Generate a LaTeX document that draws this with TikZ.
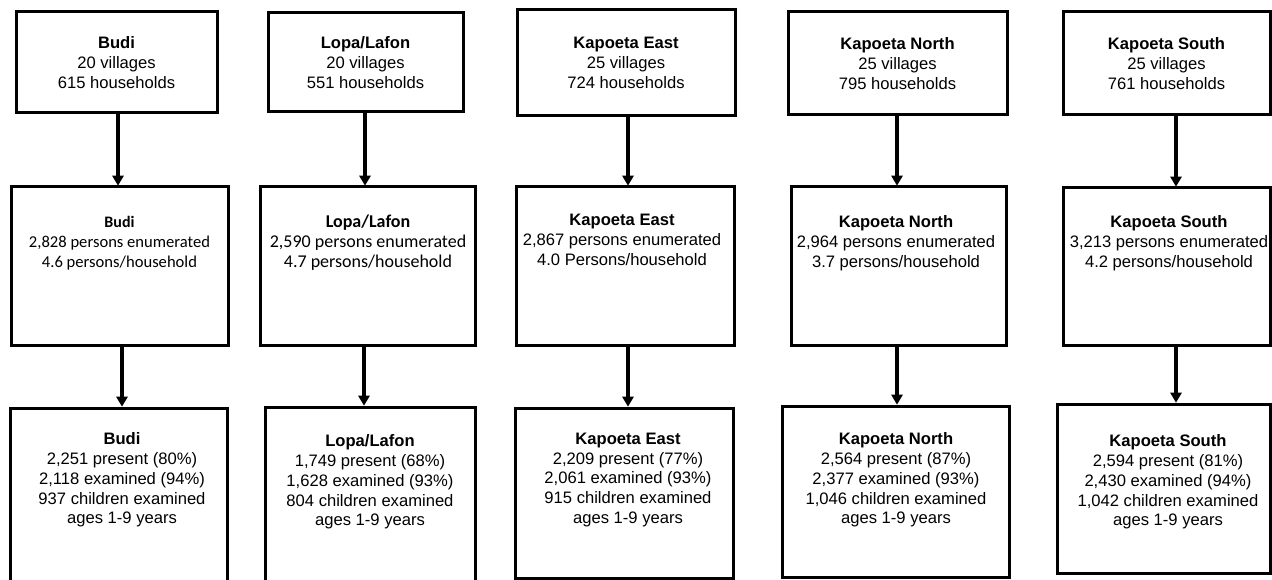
\documentclass[tikz,border=0pt]{standalone}
\usepackage{fontspec}
\setmainfont{Liberation Sans}
\newfontfamily\calib{Carlito}
\usetikzlibrary{arrows.meta}
\newcommand{\bx}[6][]{\node[box,minimum width={#5-#3},minimum height={#6-#4},#1] (#2) at ({(#3+#5)/2},{(#4+#6)/2}) {};}
\begin{document}
\begin{tikzpicture}[x=1pt,y=-1pt,
  box/.style={draw=black,line width=3pt,inner sep=0pt,outer sep=0pt,fill=white},
  txt/.style={align=center,inner sep=0pt,font=\fontsize{16.6}{19.8}\selectfont},
  arr/.style={line width=3.2pt,shorten >=1.3pt,-{Triangle[width=11pt,length=10pt]}}]
\fill[white] (0,0) rectangle (1272,580);
\clip (0,0) rectangle (1272,580);
% top row
\bx{t1}{16}{12}{217}{113}
\bx{t2}{268}{13}{463}{112}
\bx{t3}{517}{10}{735}{116}
\bx{t4}{788}{12}{1007}{115}
\bx{t5}{1063}{12}{1270}{115}
% middle row
\bx{m1}{11}{187}{228}{345}
\bx{m2}{260}{187}{475}{345}
\bx{m3}{516}{187}{734}{345}
\bx{m4}{791}{187}{1006}{345}
\bx{m5}{1063}{188}{1270}{345}
% bottom row
\bx{b1}{10}{408}{227}{610}
\bx{b2}{265}{407}{475}{610}
\bx{b3}{515}{408}{733}{578}
\bx{b4}{782}{406}{1009}{577}
\bx{b5}{1057}{404}{1270}{573}
% top texts
\node[txt] (t1t) at (t1) {\textbf{Budi}\\20 villages\\615 households};
\node[txt] (t2t) at (t2) {\textbf{Lopa/Lafon}\\20 villages\\551 households};
\node[txt] (t3t) at (t3) {\textbf{Kapoeta East}\\25 villages\\724 households};
\node[txt] (t4t) at (t4) {\textbf{Kapoeta North}\\25 villages\\795 households};
\node[txt] (t5t) at (t5) {\textbf{Kapoeta South}\\25 villages\\761 households};
% middle texts
\node[txt,font=\calib\fontsize{16.6}{20}\selectfont] (m1t) at (119.5,243)
  {{\bfseries\fontsize{16}{20}\selectfont Budi}\\2,828 persons enumerated\\4.6 persons/household};
\node[txt,font=\calib\fontsize{18}{20}\selectfont] (m2t) at (368,243)
  {\textbf{Lopa/Lafon}\\2,590 persons enumerated\\4.7 persons/household};
\node[txt] (m3t) at (622,240) {\textbf{Kapoeta East}\\2,867 persons enumerated\\4.0 Persons/household};
\node[txt] (m4t) at (896,243) {\textbf{Kapoeta North}\\2,964 persons enumerated\\3.7 persons/household};
\node[txt] (m5t) at (1169,243) {\textbf{Kapoeta South}\\3,213 persons enumerated\\4.2 persons/household};
% bottom texts
\node[txt] (b1t) at (122,480) {\textbf{Budi}\\2,251 present (80\%)\\2,118 examined (94\%)\\937 children examined\\ages 1-9 years};
\node[txt] (b2t) at (370,482) {\textbf{Lopa/Lafon}\\1,749 present (68\%)\\1,628 examined (93\%)\\804 children examined\\ages 1-9 years};
\node[txt] (b3t) at (628,480) {\textbf{Kapoeta East}\\2,209 present (77\%)\\2,061 examined (93\%)\\915 children examined\\ages 1-9 years};
\node[txt] (b4t) at (896,480) {\textbf{Kapoeta North}\\2,564 present (87\%)\\2,377 examined (93\%)\\1,046 children examined\\ages 1-9 years};
\node[txt] (b5t) at (1168,482) {\textbf{Kapoeta South}\\2,594 present (81\%)\\2,430 examined (94\%)\\1,042 children examined\\ages 1-9 years};
% arrows
\draw[arr] ([xshift=1.5pt]t1.south) -- ([xshift=-1.5pt]m1.north);
\draw[arr] ([xshift=2.5pt]m1.south) -- ([xshift=3.5pt]b1.north);
\draw[arr] ([xshift=-0.5pt]t2.south) -- ([xshift=-2.5pt]m2.north);
\draw[arr] ([xshift=-3.5pt]m2.south) -- ([xshift=-6pt]b2.north);
\draw[arr] ([xshift=2pt]t3.south) -- ([xshift=3pt]m3.north);
\draw[arr] ([xshift=3pt]m3.south) -- ([xshift=4pt]b3.north);
\draw[arr] ([xshift=-0.5pt]t4.south) -- ([xshift=-1.5pt]m4.north);
\draw[arr] ([xshift=-1.5pt]m4.south) -- ([xshift=1.5pt]b4.north);
\draw[arr] ([xshift=9.5pt]t5.south) -- ([xshift=9.5pt]m5.north);
\draw[arr] ([xshift=9.5pt]m5.south) -- ([xshift=12.5pt]b5.north);
\end{tikzpicture}
\end{document}
